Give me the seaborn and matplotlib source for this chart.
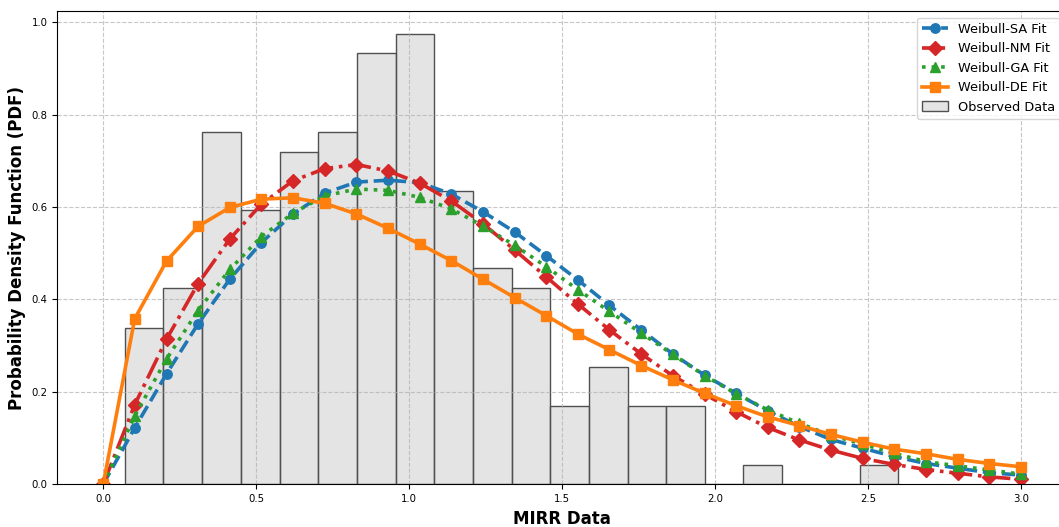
import numpy as np
import seaborn as sns
import matplotlib.pyplot as plt

# grid of x values the fitted pdfs were evaluated on
x_fit = [0.0, 0.103, 0.207, 0.31, 0.414, 0.517, 0.621, 0.724, 0.828, 0.931,
         1.034, 1.138, 1.241, 1.345, 1.448, 1.552, 1.655, 1.759, 1.862, 1.966,
         2.069, 2.172, 2.276, 2.379, 2.483, 2.586, 2.69, 2.793, 2.897, 3.0]

pdf_sa = [0.0, 0.122, 0.239, 0.347, 0.444, 0.523, 0.585, 0.630, 0.654, 0.658,
          0.653, 0.628, 0.590, 0.546, 0.495, 0.442, 0.387, 0.334, 0.282, 0.236,
          0.197, 0.159, 0.125, 0.097, 0.078, 0.060, 0.045, 0.035, 0.025, 0.020]
pdf_nm = [0.0, 0.172, 0.314, 0.434, 0.531, 0.606, 0.657, 0.683, 0.692, 0.678,
          0.652, 0.613, 0.564, 0.507, 0.449, 0.390, 0.334, 0.282, 0.235, 0.195,
          0.157, 0.123, 0.096, 0.074, 0.056, 0.043, 0.032, 0.024, 0.016, 0.011]
pdf_ga = [0.0, 0.148, 0.271, 0.376, 0.465, 0.536, 0.587, 0.624, 0.639, 0.636,
          0.621, 0.596, 0.559, 0.517, 0.471, 0.421, 0.374, 0.327, 0.281, 0.235,
          0.196, 0.161, 0.132, 0.106, 0.087, 0.067, 0.049, 0.040, 0.031, 0.022]
pdf_de = [0.0, 0.358, 0.483, 0.558, 0.599, 0.617, 0.620, 0.608, 0.585, 0.554,
          0.520, 0.484, 0.444, 0.404, 0.365, 0.325, 0.291, 0.257, 0.226, 0.197,
          0.170, 0.146, 0.127, 0.108, 0.091, 0.076, 0.066, 0.054, 0.045, 0.038]

# observed MIRR histogram (density)
bin_edges = [0.071, 0.197, 0.324, 0.450, 0.577, 0.703, 0.829, 0.956, 1.082,
             1.209, 1.335, 1.461, 1.588, 1.714, 1.841, 1.967, 2.093, 2.220,
             2.346, 2.473, 2.599]
bin_density = [0.339, 0.424, 0.763, 0.594, 0.720, 0.763, 0.933, 0.975, 0.635,
               0.468, 0.424, 0.170, 0.254, 0.170, 0.170, 0.0, 0.042, 0.0, 0.0,
               0.042]

fig = plt.figure(figsize=(10.59, 5.27), dpi=100)
ax = fig.add_axes([0.0541, 0.081, 0.9533, 0.898])

centers = [(a + b) / 2 for a, b in zip(bin_edges[:-1], bin_edges[1:])]
sns.histplot(x=centers, weights=bin_density, bins=bin_edges, color='lightgray',
             edgecolor='#505050', alpha=0.6, linewidth=1.0, label='Observed Data', ax=ax)

fits = [
    (pdf_sa, 'Weibull-SA Fit', 'tab:blue', '--', 'o'),
    (pdf_nm, 'Weibull-NM Fit', 'tab:red', '-.', 'D'),
    (pdf_ga, 'Weibull-GA Fit', 'tab:green', ':', '^'),
    (pdf_de, 'Weibull-DE Fit', 'tab:orange', '-', 's'),
]
for y, name, col, ls, mk in fits:
    sns.lineplot(x=x_fit, y=y, ax=ax, color=col, linestyle=ls, marker=mk,
                 linewidth=2.6, markersize=6.8, markeredgecolor=col,
                 markeredgewidth=1, label=name)

ax.set_xlim(-0.15, 3.15)
ax.set_ylim(0, 1.024)
ax.set_xlabel('MIRR Data', fontsize=12, fontweight='bold')
ax.set_ylabel('Probability Density Function (PDF)', fontsize=12, fontweight='bold')
ax.tick_params(labelsize=7.3)
ax.grid(True, linestyle='--', alpha=0.7)
ax.legend(loc='upper right', fontsize=9.3)

plt.savefig('out.png', dpi=100)
